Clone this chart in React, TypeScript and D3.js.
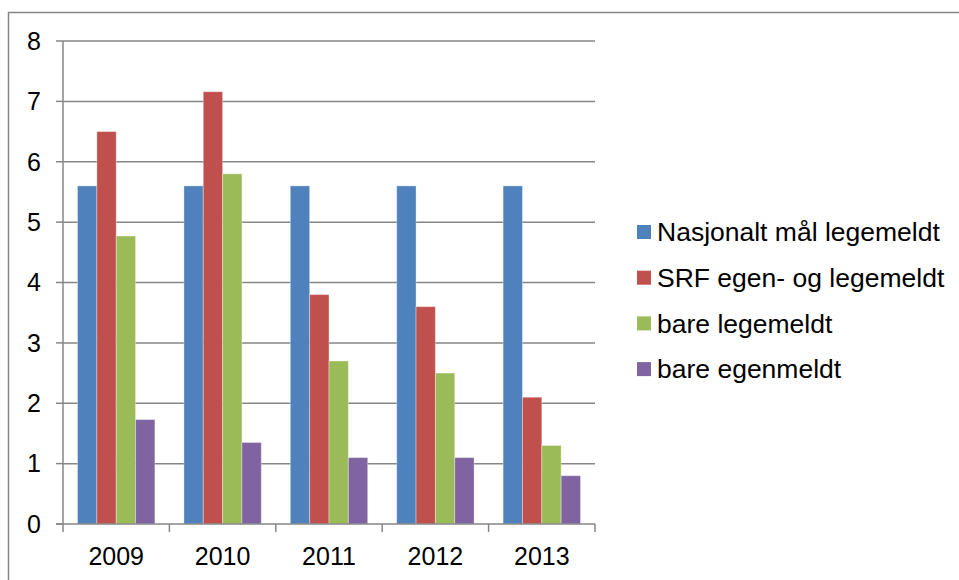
import React, { useRef, useEffect } from 'react';
import * as d3 from 'd3';

const years = ['2009', '2010', '2011', '2012', '2013'];
const seriesNames = ['Nasjonalt mål legemeldt', 'SRF egen- og legemeldt', 'bare legemeldt', 'bare egenmeldt'];
const nasjonalt = [5.6, 5.6, 5.6, 5.6, 5.6];
const srf = [6.5, 7.16, 3.8, 3.6, 2.1];
const bareLege = [4.77, 5.8, 2.7, 2.5, 1.3];
const bareEgen = [1.73, 1.35, 1.1, 1.1, 0.8];
const colors = ['#4F81BD', '#C0504D', '#9BBB59', '#8064A2'];
const yTicks = [0, 1, 2, 3, 4, 5, 6, 7, 8];

const W = 959;
const H = 580;

const App = () => {
  const ref = useRef<SVGSVGElement>(null);

  useEffect(() => {
    const svg = d3.select(ref.current);
    svg.selectAll('*').remove();

    const values = [nasjonalt, srf, bareLege, bareEgen];
    const left = 63, right = 595, top = 41, bottom = 524;
    const font = 'Liberation Sans, Arial, sans-serif';

    // outer chart frame
    svg.append('rect')
      .attr('x', 8.5).attr('y', 12.5)
      .attr('width', 1000).attr('height', 1000)
      .attr('fill', '#fff')
      .attr('stroke', '#868686')
      .attr('stroke-width', 1.5);

    const x = d3.scaleBand().domain(years).range([left, right]).paddingInner(0).paddingOuter(0);
    const y = d3.scaleLinear().domain([0, 8]).range([bottom, top]);
    // gap width 150%: 4 bars plus 1.5 bar widths of gap per category
    const bw = x.bandwidth() / 5.5;
    const inner = d3.scaleBand()
      .domain(d3.range(4).map(String))
      .range([bw * 0.75, bw * 4.75])
      .padding(0);

    const g = svg.append('g');

    // gridlines
    g.selectAll('line.grid')
      .data(yTicks.filter(t => t > 0))
      .join('line')
      .attr('x1', left).attr('x2', right)
      .attr('y1', d => y(d)).attr('y2', d => y(d))
      .attr('stroke', '#868686').attr('stroke-width', 1.5);

    // y ticks
    g.selectAll('line.ytick')
      .data(yTicks)
      .join('line')
      .attr('x1', left - 7).attr('x2', left)
      .attr('y1', d => y(d)).attr('y2', d => y(d))
      .attr('stroke', '#868686').attr('stroke-width', 1.5);

    g.selectAll('text.ylab')
      .data(yTicks)
      .join('text')
      .attr('x', 41)
      .attr('y', d => y(d))
      .attr('dy', '0.35em')
      .attr('text-anchor', 'end')
      .attr('font-family', font)
      .attr('font-size', 25)
      .attr('fill', '#000')
      .text(d => d);

    // bars
    values.forEach((vals, si) => {
      g.selectAll(`rect.s${si}`)
        .data(vals)
        .join('rect')
        .attr('x', (d, i) => (x(years[i]) as number) + (inner(String(si)) as number))
        .attr('y', d => y(d))
        .attr('width', inner.bandwidth())
        .attr('height', d => y(0) - y(d))
        .attr('fill', colors[si])
        .attr('stroke', 'rgba(255,255,255,0.35)')
        .attr('stroke-width', 1);
    });

    // axes lines
    g.append('line')
      .attr('x1', left).attr('x2', left).attr('y1', top).attr('y2', bottom)
      .attr('stroke', '#868686').attr('stroke-width', 1.5);
    g.append('line')
      .attr('x1', left - 7).attr('x2', right).attr('y1', bottom).attr('y2', bottom)
      .attr('stroke', '#868686').attr('stroke-width', 1.5);

    // x ticks
    const xTickPos = years.map(yr => x(yr) as number).concat([right]);
    g.selectAll('line.xtick')
      .data(xTickPos)
      .join('line')
      .attr('x1', d => d).attr('x2', d => d)
      .attr('y1', bottom).attr('y2', bottom + 8)
      .attr('stroke', '#868686').attr('stroke-width', 1.5);

    g.selectAll('text.xlab')
      .data(years)
      .join('text')
      .attr('x', d => (x(d) as number) + x.bandwidth() / 2)
      .attr('y', 565)
      .attr('text-anchor', 'middle')
      .attr('font-family', font)
      .attr('font-size', 25)
      .attr('fill', '#000')
      .text(d => d);

    // legend
    const legend = svg.append('g');
    seriesNames.forEach((name, i) => {
      const cy = 232 + i * 45.7;
      legend.append('rect')
        .attr('x', 637).attr('y', cy - 7)
        .attr('width', 14).attr('height', 14)
        .attr('fill', colors[i]);
      legend.append('text')
        .attr('x', 657).attr('y', cy)
        .attr('dy', '0.35em')
        .attr('font-family', font)
        .attr('font-size', 26.5)
        .attr('fill', '#000')
        .text(name);
    });
  }, []);

  return (
    <svg
      ref={ref}
      width={W}
      height={H}
      style={{ position: 'absolute', left: 0, top: 0, display: 'block', background: '#fff' }}
    />
  );
};

export default App;
